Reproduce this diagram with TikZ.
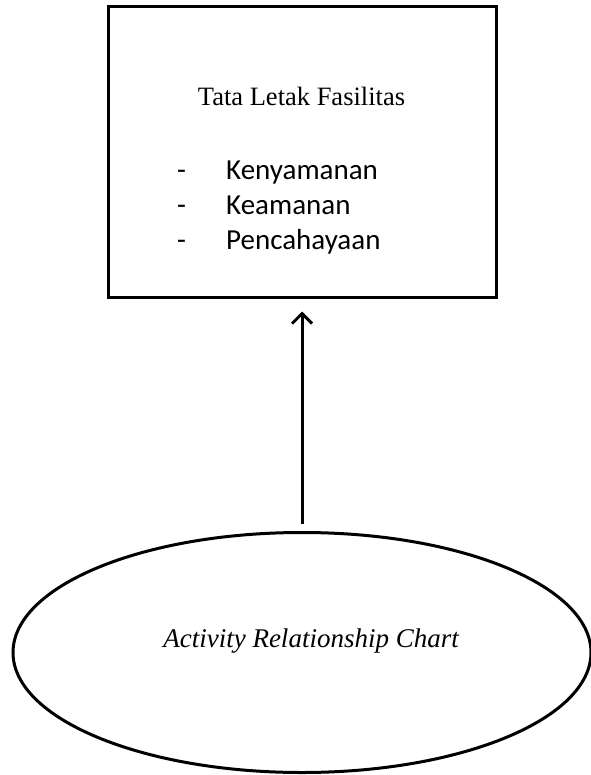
\documentclass[tikz,border=0pt]{standalone}
\usepackage{fontspec}
\setmainfont{Liberation Serif}
\newfontfamily\calibrifont{Carlito}
\usetikzlibrary{arrows.meta,shapes.geometric}
\begin{document}
\begin{tikzpicture}[x=1pt,y=-1pt,
  frame/.style={draw=black,line width=3pt,fill=white,inner sep=0pt},
  serif/.style={font=\fontsize{26.5}{30}\selectfont,inner sep=0pt,anchor=base},
  listtext/.style={font=\calibrifont\fontsize{29}{34}\selectfont,inner sep=0pt,anchor=base west},
  conn/.style={line width=3pt,-{Straight Barb[length=10pt,width=20pt,line width=3pt]}}]
\useasboundingbox (0,0) rectangle (590,775);
\node[frame,rectangle,minimum width=388pt,minimum height=290pt] (box) at (302,152) {};
\node[frame,ellipse,minimum width=578pt,minimum height=240pt] (ell) at (302,652.5) {};
\node[serif] (title) at (301.5,106) {Tata Letak Fasilitas};
\node[listtext] (d1) at (177,180) {-};
\node[listtext] (d2) at (177,215) {-};
\node[listtext] (d3) at (177,250) {-};
\node[listtext] (i1) at (226,180) {Kenyamanan};
\node[listtext] (i2) at (226,215) {Keamanan};
\node[listtext] (i3) at (226,250) {Pencahayaan};
\node[serif,font=\fontsize{27}{31}\selectfont\itshape] (arc) at (311,647) {Activity Relationship Chart};
\draw[conn] ([yshift=7pt]ell.north) -- ([yshift=-13pt]box.south);
\end{tikzpicture}
\end{document}
